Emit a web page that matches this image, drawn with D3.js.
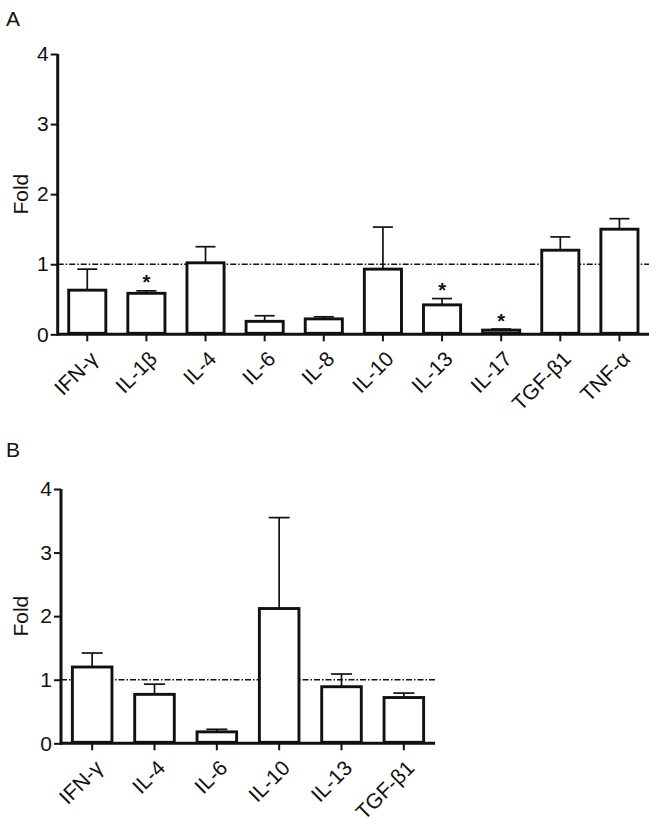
<!DOCTYPE html>
<html><head><meta charset="utf-8">
<script src="https://cdn.jsdelivr.net/npm/d3@7"></script>
<style>
body{margin:0;background:#fff;}
text{font-family:"Liberation Sans",Arial,sans-serif;fill:#111;}
</style></head>
<body><svg id="c" width="656" height="824"></svg>
<script>
const catsA = ["IFN-γ","IL-1β","IL-4","IL-6","IL-8","IL-10","IL-13","IL-17","TGF-β1","TNF-α"];
const meanA = [0.63,0.585,1.02,0.185,0.22,0.93,0.42,0.06,1.20,1.50];
const semA  = [0.30,0.035,0.23,0.08,0.03,0.60,0.09,0.015,0.19,0.15];
const starA = [false,true,false,false,false,false,true,true,false,false];

const catsB = ["IFN-γ","IL-4","IL-6","IL-10","IL-13","TGF-β1"];
const meanB = [1.20,0.77,0.18,2.12,0.89,0.72];
const semB  = [0.22,0.16,0.04,1.43,0.20,0.07];

const yTicks = [0,1,2,3,4];
const refLine = 1;

const svg = d3.select("#c");

function panel(o){
  const g = svg.append("g");
  const x = d3.scaleBand().domain(o.cats).range([o.x0,o.x1]).paddingInner(o.pad).paddingOuter(o.pad/2);
  const y = d3.scaleLinear().domain([0,4]).range([o.y0,o.y1]);

  g.append("text").attr("x",o.lx).attr("y",o.ly).attr("font-size",21).text(o.letter);

  g.append("line").attr("x1",o.x0).attr("x2",o.x1).attr("y1",y(refLine)).attr("y2",y(refLine))
    .attr("stroke","#111").attr("stroke-width",1.3).attr("stroke-dasharray","6,2,1.5,2");

  const data = o.cats.map((c,i)=>({c, m:o.mean[i], s:o.sem[i], star:o.star?o.star[i]:false}));
  const eg = g.append("g");
  data.forEach(d=>{
    const cx = x(d.c)+x.bandwidth()/2;
    eg.append("line").attr("x1",cx).attr("x2",cx).attr("y1",y(d.m)).attr("y2",y(d.m+d.s))
      .attr("stroke","#111").attr("stroke-width",1.7);
    eg.append("line").attr("x1",cx-o.cap).attr("x2",cx+o.cap).attr("y1",y(d.m+d.s)).attr("y2",y(d.m+d.s))
      .attr("stroke","#111").attr("stroke-width",1.7);
    if(d.star){
      eg.append("text").attr("x",cx).attr("y",y(d.m+d.s)-1.5).attr("text-anchor","middle")
        .attr("font-size",20).attr("font-weight","bold").text("*");
    }
  });

  g.selectAll("rect.bar").data(data).enter().append("rect")
    .attr("x",d=>x(d.c)+1.4).attr("width",x.bandwidth()-2.8)
    .attr("y",d=>y(d.m)).attr("height",d=>y(0)-y(d.m)-1)
    .attr("fill","#fff").attr("stroke","#111").attr("stroke-width",2.9);

  const ya = g.append("g").attr("transform",`translate(${o.x0},0)`)
    .call(d3.axisLeft(y).tickValues(yTicks).tickSize(7).tickPadding(2).tickFormat(d3.format("d")));
  ya.select(".domain").attr("stroke","#111").attr("stroke-width",3).attr("d",`M0,${o.y0+1.5}V${o.y1}`);
  ya.selectAll(".tick line").attr("stroke","#111").attr("stroke-width",2);
  ya.selectAll(".tick text").attr("font-size",21).attr("font-family","Liberation Sans, Arial, sans-serif").attr("fill","#111");

  const xa = g.append("g").attr("transform",`translate(0,${o.y0})`)
    .call(d3.axisBottom(x).tickSize(7).tickPadding(0));
  xa.select(".domain").attr("stroke","#111").attr("stroke-width",3).attr("d",`M${o.x0},0H${o.x1}`);
  xa.selectAll(".tick line").attr("stroke","#111").attr("stroke-width",2);
  xa.selectAll(".tick text").attr("font-size",21).attr("font-family","Liberation Sans, Arial, sans-serif")
    .attr("fill","#111").attr("text-anchor","end").attr("dy",0)
    .attr("transform","translate(12,26) rotate(-45)").attr("y",0).attr("x",0);

  g.append("text").attr("transform",`translate(${o.fx},${(o.y0+o.y1)/2}) rotate(-90)`)
    .attr("text-anchor","middle").attr("font-size",21).text("Fold");
}

panel({letter:"A", lx:6, ly:26, cats:catsA, mean:meanA, sem:semA, star:starA,
  x0:57.7, x1:649, y0:334.3, y1:54, pad:0.325, cap:10, fx:28});
panel({letter:"B", lx:6, ly:457, cats:catsB, mean:meanB, sem:semB,
  x0:61, x1:435, y0:743.3, y1:489, pad:0.32, cap:10.5, fx:28});
</script></body></html>
